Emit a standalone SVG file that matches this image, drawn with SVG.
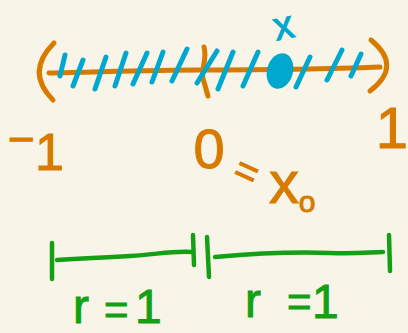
<svg xmlns="http://www.w3.org/2000/svg" width="408" height="333" viewBox="0 0 408 333">
<style>
.o{stroke:#d87a00;fill:none;stroke-width:5;stroke-linecap:round;stroke-linejoin:round}
.b{stroke:#00a8d0;fill:none;stroke-width:5;stroke-linecap:round}
.g{stroke:#14a014;fill:none;stroke-width:4.5;stroke-linecap:round;stroke-linejoin:round}
.to{fill:#d87a00;stroke:#d87a00;stroke-width:1;font-family:"Liberation Sans",Arial,sans-serif}
.tb{fill:#00a8d0;stroke:#00a8d0;stroke-width:1;font-family:"Liberation Sans",Arial,sans-serif}
.tg{fill:#14a014;stroke:#14a014;stroke-width:1;font-family:"Liberation Sans",Arial,sans-serif}
</style>
<rect width="408" height="333" fill="#f8f5e8"/>
<g id="interval">
<path class="o" d="M49,73 C100,72 150,70 200,70 S330,69 380,67"/>
<path class="o" d="M54,43 Q25,72 53,100"/>
<path class="o" d="M371,40 Q403,66 370,91"/>
<path class="o" d="M204,47 C208,60 199,72 204,82 L208,96"/>
</g>
<g id="ticks">
<path class="b" d="M60,76 L65,55 M73,86 L83,60 M95,89 L106,57 M115,86 L126,53 M133,84 L147,53 M152,82 L163,52 M172,81 L187,49 M197,83 L217,51 M218,89 L233,52 M243,86 L258,52 M296,87 L310,57 M327,80 L342,50 M351,76 L361,54"/>
</g>
<g id="point">
<ellipse cx="280" cy="71" rx="13" ry="18" transform="rotate(15 280 71)" fill="#00a8d0"/>
<text class="tb" x="284" y="39" font-size="40" text-anchor="middle" transform="rotate(-12 284 29)">x</text>
</g>
<g id="labels">
<text class="to" font-size="46"><tspan x="8" y="155">−</tspan></text>
<text class="to" font-size="52"><tspan x="35" y="170">1</tspan></text>
<text class="to" x="392" y="148" font-size="58" text-anchor="middle">1</text>
<text class="to" x="209" y="168" font-size="56" text-anchor="middle">0</text>
<text class="to" x="247" y="185" font-size="40" text-anchor="middle" transform="rotate(25 247 171)">=</text>
<text class="to" x="284" y="203" font-size="60" text-anchor="middle">x</text>
<text class="to" x="307" y="212" font-size="30" text-anchor="middle">o</text>
</g>
<g id="connectors">
<path class="g" d="M52,243 L52,279"/>
<path class="g" d="M57,260 C90,258 100,258 130,256 S170,251 192,252"/>
<path class="g" d="M193,235 L194,265"/>
<path class="g" d="M207,237 L209,277"/>
<path class="g" d="M215,257 C260,253 300,252 330,253 S370,252 383,252"/>
<path class="g" d="M389,235 L390,271"/>
</g>
<g id="radius-labels">
<text class="tg"><tspan x="73" y="323" font-size="48">r</tspan><tspan x="104" y="324" font-size="42">=</tspan><tspan x="135" y="323" font-size="48">1</tspan></text>
<text class="tg"><tspan x="245" y="317" font-size="48">r</tspan><tspan x="287" y="316" font-size="42">=</tspan><tspan x="312" y="318" font-size="48">1</tspan></text>
</g>
</svg>
